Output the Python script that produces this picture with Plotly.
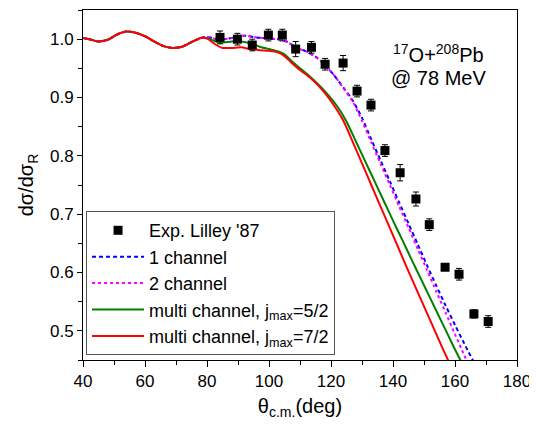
import plotly.graph_objects as go

# Experimental data (Lilley '87)
exp_theta = [84.2, 89.8, 94.6, 99.8, 104.3, 108.6, 113.7, 118.1, 123.9, 128.4, 132.9,
             137.4, 142.3, 147.4, 151.7, 156.8, 161.3, 166.1, 170.7]
exp_ratio = [1.003, 1.000, 0.990, 1.007, 1.007, 0.983, 0.986, 0.957, 0.959, 0.911, 0.887,
             0.809, 0.771, 0.726, 0.682, 0.609, 0.597, 0.529, 0.516]
exp_err = [0.011, 0.010, 0.010, 0.010, 0.010, 0.013, 0.010, 0.010, 0.013, 0.010, 0.010,
           0.010, 0.014, 0.012, 0.010, 0.005, 0.010, 0.007, 0.010]

# Common forward-angle part of calculations
common_theta = [40, 42, 45, 48, 51, 54, 57, 60, 63, 66, 69, 72, 75, 78]
common_ratio = [1.002, 1.000, 0.996, 0.999, 1.008, 1.013, 1.011, 1.005, 0.996, 0.988, 0.985, 0.987, 0.995, 1.002]

one_ch_theta = [80, 84, 88, 92, 96, 100, 104, 106, 109, 112, 115, 118, 121, 124, 127, 130, 133, 136,
                139, 142, 145, 148, 151, 154, 157, 160, 163, 166]
one_ch_ratio = [1.004, 0.999, 1.002, 1.006, 1.003, 1.001, 0.999, 0.995, 0.985, 0.979, 0.970, 0.956, 0.938,
                0.917, 0.895, 0.865, 0.828, 0.792, 0.756, 0.720, 0.684, 0.648, 0.612, 0.577, 0.543, 0.510,
                0.478, 0.447]

two_ch_theta = [80, 84, 88, 92, 96, 100, 104, 106, 109, 112, 115, 118, 121, 124, 127, 130, 133, 136,
                139, 142, 145, 148, 151, 154, 157, 160, 162, 164]
two_ch_ratio = [1.004, 0.999, 1.002, 1.006, 1.003, 1.001, 0.999, 0.995, 0.985, 0.979, 0.970, 0.956, 0.938,
                0.916, 0.893, 0.860, 0.823, 0.786, 0.750, 0.713, 0.677, 0.640, 0.604, 0.567, 0.531, 0.494,
                0.470, 0.446]

multi52_theta = [80, 84, 88, 91, 94, 97, 100, 103, 105, 107, 110, 113, 116, 119, 122, 125, 128, 131,
                 134, 137, 140, 143, 146, 149, 152, 155, 158, 160, 162]
multi52_ratio = [1.002, 0.994, 0.996, 0.996, 0.993, 0.987, 0.983, 0.979, 0.974, 0.964, 0.950, 0.937, 0.922,
                 0.905, 0.885, 0.859, 0.825, 0.791, 0.757, 0.723, 0.689, 0.656, 0.622, 0.589, 0.556, 0.523,
                 0.490, 0.468, 0.447]

multi72_theta = [80, 83, 85, 88, 91, 94, 97, 100, 103, 105, 107, 110, 113, 116, 119, 122, 124, 127, 130,
                 133, 136, 139, 142, 145, 148, 151, 154, 156, 158]
multi72_ratio = [1.001, 0.990, 0.985, 0.985, 0.986, 0.983, 0.981, 0.980, 0.977, 0.971, 0.961, 0.947, 0.935,
                 0.920, 0.901, 0.878, 0.860, 0.824, 0.787, 0.750, 0.713, 0.676, 0.639, 0.602, 0.566, 0.530,
                 0.494, 0.470, 0.447]

x_ticks = [40, 60, 80, 100, 120, 140, 160, 180]
y_ticks = [0.5, 0.6, 0.7, 0.8, 0.9, 1.0]

FONT = "Liberation Sans, Arial, sans-serif"

fig = go.Figure()

series = [
    ("1 channel", one_ch_theta, one_ch_ratio, "#0000ff", "4px,3px", 2),
    ("2 channel", two_ch_theta, two_ch_ratio, "#ff00ff", "dot", 3),
    ("multi channel, j<sub>max</sub>=5/2", multi52_theta, multi52_ratio, "#008000", "solid", 4),
    ("multi channel, j<sub>max</sub>=7/2", multi72_theta, multi72_ratio, "#ff0000", "solid", 5),
]
for name, th, r, col, dash, rank in series:
    fig.add_trace(go.Scatter(
        x=common_theta + th, y=common_ratio + r, mode="lines", name=name,
        line=dict(color=col, width=2, dash=dash, shape="spline", smoothing=0.6),
        legendrank=rank,
    ))

fig.add_trace(go.Scatter(
    x=exp_theta, y=exp_ratio, mode="markers", name="Exp. Lilley '87",
    marker=dict(symbol="square", size=9, color="black"),
    error_y=dict(type="data", array=exp_err, color="black", thickness=1, width=3),
    legendrank=1,
))

axis_common = dict(showgrid=False, zeroline=False, linecolor="black", linewidth=1, automargin=False,
                   tickfont=dict(family=FONT, size=17, color="black"))

fig.update_layout(
    width=529, height=418,
    margin=dict(l=75, r=20, t=2, b=66, autoexpand=False),
    paper_bgcolor="white", plot_bgcolor="white",
    font=dict(family=FONT, color="black"),
    showlegend=True,
    legend=dict(x=0.007, y=0.014, xanchor="left", yanchor="bottom",
                bordercolor="#555555", borderwidth=1, bgcolor="white",
                font=dict(family=FONT, size=18, color="black"),
                itemwidth=52),
    xaxis=dict(range=[40, 180], tickvals=x_ticks, ticks="outside", ticklen=6, tickcolor="black",
               minor=dict(dtick=10, ticks="outside", ticklen=4, tickcolor="black"),
               title=dict(text="θ<sub>c.m.</sub>(deg)", font=dict(family=FONT, size=20), standoff=8),
               mirror=True, **axis_common),
    yaxis=dict(range=[0.45, 1.05], tickvals=y_ticks, tickformat=".1f", ticks="outside", ticklen=5,
               tickcolor="black",
               minor=dict(dtick=0.05, ticks="outside", ticklen=4, tickcolor="black"),
               title=dict(text="dσ/dσ<sub>R</sub>", font=dict(family=FONT, size=20), standoff=10),
               mirror=True, **axis_common),
    xaxis2=dict(overlaying="x", matches="x", side="top", range=[40, 180], tickvals=x_ticks,
                ticks="inside", ticklen=5, tickcolor="black", showticklabels=False, automargin=False,
                minor=dict(dtick=10, ticks="inside", ticklen=5, tickcolor="black"),
                showline=True, linecolor="black", showgrid=False, zeroline=False, anchor="y"),
    yaxis2=dict(overlaying="y", matches="y", side="right", range=[0.45, 1.05], tickvals=y_ticks,
                ticks="inside", ticklen=5, tickcolor="black", showticklabels=False, automargin=False,
                minor=dict(dtick=0.05, ticks="inside", ticklen=5, tickcolor="black"),
                showline=True, linecolor="black", showgrid=False, zeroline=False, anchor="x"),
    annotations=[
        dict(x=0.82, y=0.877, xref="paper", yref="paper", xanchor="center", yanchor="middle",
             text="<sup>17</sup>O+<sup>208</sup>Pb", showarrow=False,
             font=dict(family=FONT, size=20, color="black")),
        dict(x=0.82, y=0.806, xref="paper", yref="paper", xanchor="center", yanchor="middle",
             text="@ 78 MeV", showarrow=False,
             font=dict(family=FONT, size=20, color="black")),
    ],
)

fig.write_html("out.html")
